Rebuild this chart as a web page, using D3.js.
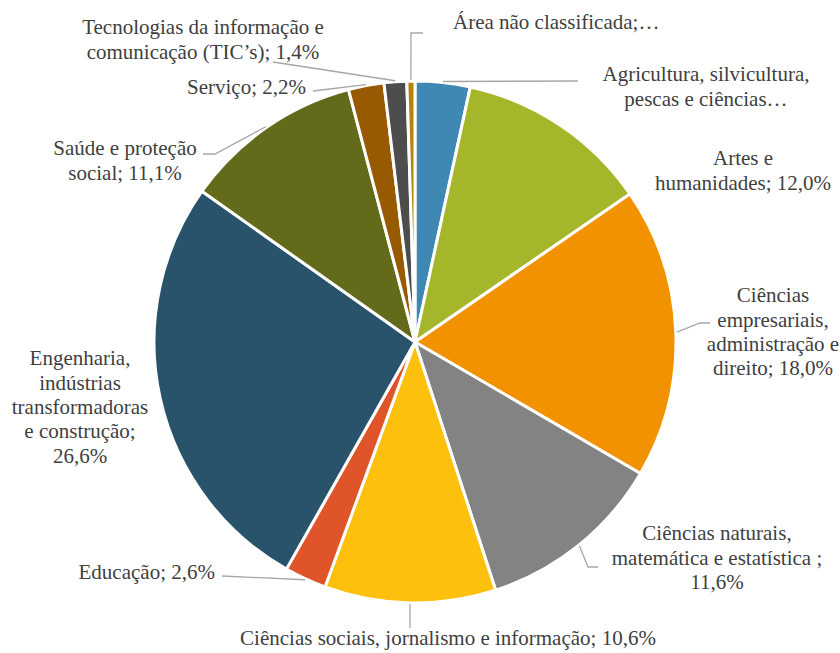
<!DOCTYPE html>
<html>
<head>
<meta charset="utf-8">
<script src="https://cdn.jsdelivr.net/npm/d3@7"></script>
<style>
  body { margin: 0; background: #fff; }
</style>
</head>
<body>
<div id="chart"></div>
<script>
'use strict';

var categories = [
    'Agricultura, silvicultura, pescas e ciências veterinárias',
    'Artes e humanidades',
    'Ciências empresariais, administração e direito',
    'Ciências naturais, matemática e estatística',
    'Ciências sociais, jornalismo e informação',
    'Educação',
    'Engenharia, indústrias transformadoras e construção',
    'Saúde e proteção social',
    'Serviço',
    'Tecnologias da informação e comunicação (TIC’s)',
    'Área não classificada'
];
var values = [3.4, 12.0, 18.0, 11.6, 10.6, 2.6, 26.6, 11.1, 2.2, 1.4, 0.5];
var labelLines = [
    ['Agricultura, silvicultura,', 'pescas e ciências…'],
    ['Artes e', 'humanidades; 12,0%'],
    ['Ciências', 'empresariais,', 'administração e', 'direito; 18,0%'],
    ['Ciências naturais,', 'matemática e estatística ;', '11,6%'],
    ['Ciências sociais, jornalismo e informação; 10,6%'],
    ['Educação; 2,6%'],
    ['Engenharia,', 'indústrias', 'transformadoras', 'e construção;', '26,6%'],
    ['Saúde e proteção', 'social; 11,1%'],
    ['Serviço; 2,2%'],
    ['Tecnologias da informação e', 'comunicação (TIC’s); 1,4%'],
    ['Área não classificada;…']
];
var colors = ['#3f88b4', '#a5b62b', '#f39200', '#838383', '#fdc00c',
              '#e0542a', '#28536a', '#636b1a', '#985a00', '#4d4d4d', '#b5850a'];

// label layout: text position, anchor, leader elbow/end points
var labelPos = [
    { x: 706, y: 74,  anchor: 'middle', leader: [[578, 81]] },
    { x: 743, y: 158, anchor: 'middle', leader: null },
    { x: 773, y: 295, anchor: 'middle', leader: [[700, 323], [710, 323]] },
    { x: 717, y: 533, anchor: 'middle', leader: [[588, 567], [598, 567]] },
    { x: 448, y: 638, anchor: 'middle', leader: [[410, 628]] },
    { x: 215, y: 572, anchor: 'end',    leader: [[222, 576]] },
    { x: 80,  y: 358, anchor: 'middle', leader: null },
    { x: 125, y: 148, anchor: 'middle', leader: [[215, 154], [203, 154]] },
    { x: 306, y: 87,  anchor: 'end',    leader: [[313, 91]] },
    { x: 203, y: 27,  anchor: 'middle', leader: [[273, 62]] },
    { x: 453, y: 22,  anchor: 'start',  leader: [[411, 33], [423, 33]] }
];

var width = 840,
    height = 653,
    cx = 415,
    cy = 342,
    rad = 261,
    lineH = 24.3;

var svg = d3.select('#chart')
    .append('svg')
    .attr('width', width)
    .attr('height', height);

var pie = d3.pie().sort(null).value(function(d){ return d; });
var arcs = pie(values);
var arc = d3.arc().innerRadius(0).outerRadius(rad);

var g = svg.append('g')
    .attr('transform', 'translate(' + cx + ', ' + cy + ')');

g.selectAll('path.slice')
    .data(arcs)
    .enter()
    .append('path')
    .attr('class', 'slice')
    .attr('d', arc)
    .attr('fill', function(d, i){ return colors[i]; })
    .attr('stroke', '#fff')
    .attr('stroke-width', 3)
    .attr('stroke-linejoin', 'round');

// leader lines
var line = d3.line();
arcs.forEach(function(d, i){
    var lp = labelPos[i];
    if (!lp.leader) return;
    var mid = (d.startAngle + d.endAngle) / 2;
    var start = [cx + Math.sin(mid) * (rad + 1), cy - Math.cos(mid) * (rad + 1)];
    var pts = [start].concat(lp.leader);
    svg.append('path')
        .attr('d', line(pts))
        .attr('fill', 'none')
        .attr('stroke', '#a6a6a6')
        .attr('stroke-width', 1.3);
});

// labels, one text element per line
labelLines.forEach(function(lines, i){
    var lp = labelPos[i];
    svg.selectAll(null)
        .data(lines)
        .enter()
        .append('text')
        .attr('text-anchor', lp.anchor)
        .attr('x', lp.x)
        .attr('y', function(s, j){ return lp.y + j * lineH; })
        .attr('dy', '0.35em')
        .style('font-family', "'Liberation Serif', 'Times New Roman', serif")
        .style('font-size', '21px')
        .style('fill', '#404040')
        .text(function(s){ return s; });
});
</script>
</body>
</html>
